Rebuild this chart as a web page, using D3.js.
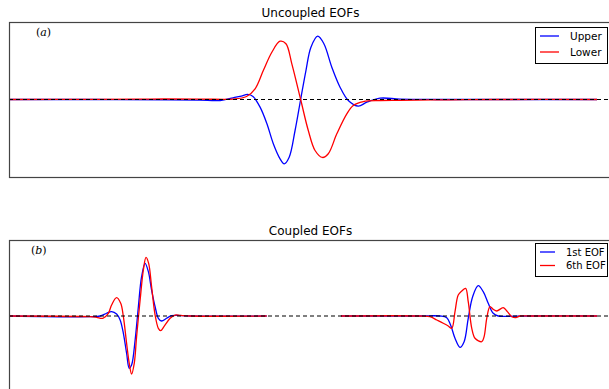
<!DOCTYPE html>
<html>
<head>
<meta charset="utf-8">
<script src="https://cdn.jsdelivr.net/npm/d3@7"></script>
<style>
body { margin: 0; background: #fff; }
svg text { font-family: "DejaVu Sans", sans-serif; fill: #000; }
</style>
</head>
<body>
<div id="chart"></div>
<script>
// values, x = grid index (0..200), y = normalised amplitude

// (a) uncoupled EOFs
var upperX = [0, 30, 55, 65, 71.8, 76.2, 79, 81.2, 83, 85.4, 87.7, 89.9, 92.2, 93.6, 95.3, 97.3, 99.2, 101, 102.7, 105, 107.1, 109.8, 112.6, 115.4, 118.8, 121.7, 126.2, 133, 145, 170, 200];
var upperY = [0, 0, -0.003, -0.008, -0.013, 0.022, 0.045, 0.065, 0.039, -0.099, -0.31, -0.57, -0.765, -0.83, -0.745, -0.40, 0, 0.374, 0.675, 0.817, 0.72, 0.417, 0.159, -0.013, -0.086, -0.035, 0.017, 0.005, 0, 0, 0];

var lowerX = [0, 30, 48, 65, 76.2, 80.8, 83.7, 86.5, 89.4, 92.2, 94.2, 96.2, 99.2, 101.8, 104.1, 106.6, 108.6, 111.5, 114.9, 117.1, 120.5, 126.2, 133, 150, 167, 200];
var lowerY = [0, 0.002, 0.006, 0.006, 0.005, 0.039, 0.138, 0.374, 0.61, 0.752, 0.719, 0.46, 0, -0.40, -0.658, -0.748, -0.70, -0.443, -0.185, -0.077, -0.026, -0.013, -0.01, -0.004, 0, 0];

// (b) coupled EOFs, left block (upper layer) and right block (lower layer)
var eof1LeftX = [0, 27.6, 31, 33.2, 34.9, 36.6, 37.8, 38.9, 40, 40.9, 41.7, 42.9, 44, 45.1, 46.3, 47.4, 48.5, 49.7, 50.8, 51.9, 53.6, 55.3, 57, 61.6, 87.65];
var eof1LeftY = [0, -0.009, 0, 0.036, 0.057, 0.026, -0.053, -0.228, -0.49, -0.688, -0.645, -0.316, 0.122, 0.517, 0.693, 0.583, 0.342, 0.122, -0.03, -0.066, -0.03, 0.004, 0.009, 0, 0];

var eof6LeftX = [0, 27.6, 29.8, 31.9, 33.8, 34.9, 36.6, 38, 38.9, 40, 40.9, 41.7, 42.6, 43.4, 44.6, 45.7, 46.6, 47.5, 48.5, 49.7, 50.8, 51.6, 52.7, 54.8, 56.5, 58.2, 61.6, 87.65];
var eof6LeftY = [0, -0.009, -0.017, -0.03, 0.036, 0.145, 0.241, 0.167, -0.009, -0.359, -0.622, -0.763, -0.622, -0.272, 0.21, 0.605, 0.772, 0.693, 0.386, 0.013, -0.162, -0.193, -0.141, -0.03, 0.013, 0.009, 0, 0];

var eof1RightX = [112.9, 139.8, 146.6, 148.9, 150.2, 151.7, 153.4, 154.8, 156.2, 157.7, 159.6, 161.3, 163, 164.7, 166.4, 169.3, 177.2, 200];
var eof1RightY = [0, 0, 0, -0.022, -0.118, -0.293, -0.412, -0.338, -0.03, 0.254, 0.399, 0.32, 0.167, 0.036, 0, -0.004, 0, 0];

var eof6RightX = [112.9, 139.8, 143.2, 145.5, 147.7, 149.4, 150.6, 151.7, 152.8, 154, 155.3, 156.2, 157.4, 158.5, 160.8, 161.6, 162.5, 163.6, 164.7, 165.9, 168.1, 169.5, 171, 172.4, 173.8, 177.2, 200];
var eof6RightY = [0, 0, -0.009, -0.053, -0.096, -0.132, -0.162, 0.057, 0.276, 0.329, 0.364, 0.188, -0.162, -0.293, -0.338, -0.272, -0.03, 0.122, 0.088, 0.066, 0.109, 0.057, -0.009, -0.022, 0, 0, 0];

function zip(xs, ys) {
    return xs.map(function(x, i) { return [x, ys[i]]; });
}

var width = 609, height = 389;

var svg = d3.select("#chart")
    .append("svg")
    .attr("width", width)
    .attr("height", height)
    .style("display", "block");

svg.append("rect")
    .attr("width", width)
    .attr("height", height)
    .attr("fill", "#fff");

//draws one panel: frame, series, zero line, title, letter and legend
function drawPanel(opts) {
    var x = d3.scaleLinear().domain([0, 205.1]).range([opts.left, opts.right]);
    var y = d3.scaleLinear().domain([-1, 1]).range([opts.bottom, opts.top]);

    svg.append("clipPath")
        .attr("id", opts.id)
        .append("rect")
        .attr("x", opts.left)
        .attr("y", opts.top)
        .attr("width", opts.right - opts.left)
        .attr("height", opts.bottom - opts.top);

    var g = svg.append("g").attr("clip-path", "url(#" + opts.id + ")");

    var line = d3.line()
        .x(function(d) { return x(d[0]); })
        .y(function(d) { return y(d[1]); })
        .curve(d3.curveCatmullRom.alpha(0.5));

    opts.series.forEach(function(s) {
        s.parts.forEach(function(p) {
            g.append("path")
                .datum(p)
                .attr("fill", "none")
                .attr("stroke", s.color)
                .attr("stroke-width", 1.3)
                .attr("d", line);
        });
    });

    //dashed zero line
    g.append("line")
        .attr("x1", opts.left)
        .attr("x2", opts.right)
        .attr("y1", y(0))
        .attr("y2", y(0))
        .attr("stroke", "#000")
        .attr("stroke-width", 1.2)
        .attr("stroke-dasharray", "4,3");

    svg.append("rect")
        .attr("x", opts.left + 0.5)
        .attr("y", opts.top + 0.5)
        .attr("width", opts.right - opts.left)
        .attr("height", opts.bottom - opts.top)
        .attr("fill", "none")
        .attr("stroke", "#444")
        .attr("stroke-width", 1.2);

    svg.append("text")
        .attr("x", (opts.left + opts.right) / 2)
        .attr("y", opts.top - 5)
        .attr("text-anchor", "middle")
        .style("font-size", "12px")
        .text(opts.title);

    var lab = svg.append("text")
        .attr("x", opts.labelX)
        .attr("y", opts.top + 14)
        .style("font-family", "'DejaVu Serif', serif")
        .style("font-size", "11px");
    lab.append("tspan").text("(");
    lab.append("tspan").style("font-style", "italic").text(opts.letter);
    lab.append("tspan").text(")");

    //legend
    var lg = opts.legend;
    svg.append("rect")
        .attr("x", lg.x + 0.5)
        .attr("y", lg.y + 0.5)
        .attr("width", lg.w)
        .attr("height", lg.h)
        .attr("fill", "#fff")
        .attr("stroke", "#000")
        .attr("stroke-width", 1);

    opts.series.forEach(function(s, i) {
        var ly = lg.y + lg.first + i * lg.step;
        svg.append("line")
            .attr("x1", lg.x + 5)
            .attr("x2", lg.x + 5 + lg.lineLen)
            .attr("y1", ly)
            .attr("y2", ly)
            .attr("stroke", s.color)
            .attr("stroke-width", 1.3);
        svg.append("text")
            .attr("x", lg.x + lg.textX)
            .attr("y", ly)
            .attr("dy", "0.35em")
            .style("font-size", lg.fontSize)
            .text(s.name);
    });
}

drawPanel({
    id: "clipA",
    left: 9, right: 612, top: 22, bottom: 177,
    title: "Uncoupled EOFs",
    letter: "a",
    labelX: 36,
    series: [
        { name: "Upper", color: "#0000ff", parts: [zip(upperX, upperY)] },
        { name: "Lower", color: "#ff0000", parts: [zip(lowerX, lowerY)] }
    ],
    legend: { x: 535, y: 27, w: 72, h: 36, first: 9, step: 16, lineLen: 19, textX: 35, fontSize: "10.5px" }
});

drawPanel({
    id: "clipB",
    left: 9, right: 612, top: 240, bottom: 392,
    title: "Coupled EOFs",
    letter: "b",
    labelX: 31,
    series: [
        { name: "1st EOF", color: "#0000ff", parts: [zip(eof1LeftX, eof1LeftY), zip(eof1RightX, eof1RightY)] },
        { name: "6th EOF", color: "#ff0000", parts: [zip(eof6LeftX, eof6LeftY), zip(eof6RightX, eof6RightY)] }
    ],
    legend: { x: 535, y: 243, w: 72, h: 33, first: 9, step: 13.5, lineLen: 15, textX: 31, fontSize: "10px" }
});
</script>
</body>
</html>
